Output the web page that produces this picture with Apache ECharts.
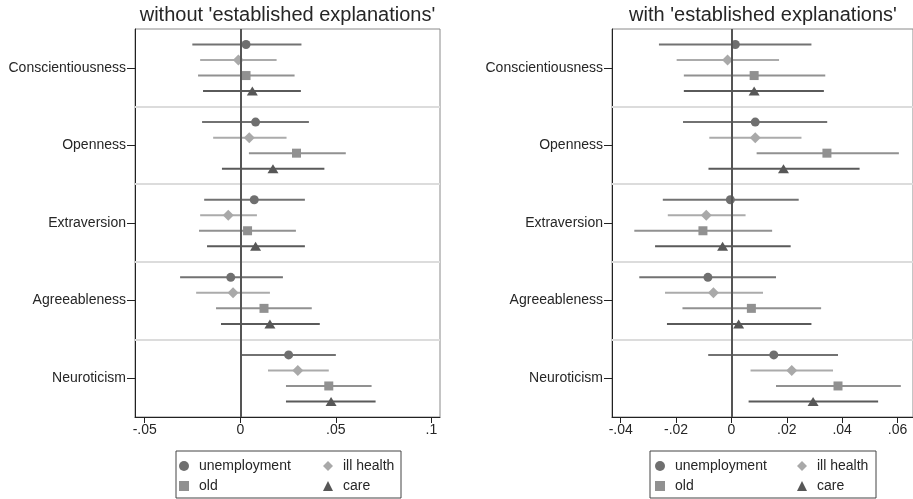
<!DOCTYPE html>
<html><head><meta charset="utf-8">
<script src="https://cdn.jsdelivr.net/npm/echarts@6/dist/echarts.min.js"></script>
<style>html,body{margin:0;padding:0;background:#fff}#c{width:913px;height:499px}</style>
</head><body><div id="c"></div>
<script>
// ---------------- data ----------------
const categories = ['Conscientiousness', 'Openness', 'Extraversion', 'Agreeableness', 'Neuroticism'];
const seriesNames = ['unemployment', 'ill health', 'old', 'care'];
const panelTitles = ["without 'established explanations'", "with 'established explanations'"];
const leftTicks = [-0.05, 0, 0.05, 0.1];
const rightTicks = [-0.04, -0.02, 0, 0.02, 0.04, 0.06];

// Left panel (without established explanations): estimate, lower CI, upper CI per category
const L_unemp_est = [0.0030, 0.0080, 0.0073, -0.0050, 0.0253];
const L_unemp_lo  = [-0.0251, -0.0200, -0.0189, -0.0315, 0.0004];
const L_unemp_hi  = [0.0320, 0.0359, 0.0338, 0.0223, 0.0500];
const L_ill_est   = [-0.0010, 0.0047, -0.0063, -0.0038, 0.0301];
const L_ill_lo    = [-0.0210, -0.0142, -0.0210, -0.0231, 0.0145];
const L_ill_hi    = [0.0190, 0.0242, 0.0087, 0.0155, 0.0463];
const L_old_est   = [0.0030, 0.0294, 0.0038, 0.0124, 0.0463];
const L_old_lo    = [-0.0221, 0.0045, -0.0216, -0.0127, 0.0239];
const L_old_hi    = [0.0284, 0.0552, 0.0291, 0.0374, 0.0687];
const L_care_est  = [0.0063, 0.0171, 0.0080, 0.0155, 0.0475];
const L_care_lo   = [-0.0195, -0.0096, -0.0174, -0.0101, 0.0239];
const L_care_hi   = [0.0317, 0.0440, 0.0338, 0.0416, 0.0708];

// Right panel (with established explanations)
const R_unemp_est = [0.0014, 0.0086, -0.0004, -0.0085, 0.0153];
const R_unemp_lo  = [-0.0262, -0.0175, -0.0248, -0.0333, -0.0084];
const R_unemp_hi  = [0.0289, 0.0346, 0.0243, 0.0161, 0.0385];
const R_ill_est   = [-0.0014, 0.0086, -0.0091, -0.0065, 0.0218];
const R_ill_lo    = [-0.0198, -0.0080, -0.0230, -0.0240, 0.0069];
const R_ill_hi    = [0.0172, 0.0253, 0.0051, 0.0114, 0.0367];
const R_old_est   = [0.0082, 0.0345, -0.0103, 0.0072, 0.0385];
const R_old_lo    = [-0.0172, 0.0091, -0.0351, -0.0177, 0.0161];
const R_old_hi    = [0.0339, 0.0605, 0.0147, 0.0324, 0.0612];
const R_care_est  = [0.0082, 0.0188, -0.0032, 0.0026, 0.0295];
const R_care_lo   = [-0.0172, -0.0083, -0.0276, -0.0233, 0.0062];
const R_care_hi   = [0.0334, 0.0463, 0.0214, 0.0289, 0.0530];

// ---------------- build ----------------
const FONT = '"Liberation Sans", Arial, sans-serif';
const TXT = '#262626';
const styles = [
  {symbol: 'circle',   size: 9,       marker: '#6f6f6f', line: '#727272'},
  {symbol: 'diamond',  size: 11,      marker: '#a9a9a9', line: '#ababab'},
  {symbol: 'rect',     size: 9,       marker: '#919191', line: '#919191'},
  {symbol: 'triangle', size: [11, 9], marker: '#575757', line: '#5a5a5a'}
];
const panels = [
  {est: [L_unemp_est, L_ill_est, L_old_est, L_care_est],
   lo:  [L_unemp_lo, L_ill_lo, L_old_lo, L_care_lo],
   hi:  [L_unemp_hi, L_ill_hi, L_old_hi, L_care_hi],
   ticks: leftTicks, min: -0.0551, max: 0.1045},
  {est: [R_unemp_est, R_ill_est, R_old_est, R_care_est],
   lo:  [R_unemp_lo, R_ill_lo, R_old_lo, R_care_lo],
   hi:  [R_unemp_hi, R_ill_hi, R_old_hi, R_care_hi],
   ticks: rightTicks, min: -0.04316, max: 0.0656}
];
const rowPos = (g, k) => g * 5 + k + 1;       // position on the y value axis
const catPos = categories.map((c, g) => g * 5 + 2.5);
const sepPos = [5, 10, 15, 20];

function fmtTick(v) {
  if (Math.abs(v) < 1e-12) return '0';
  const s = String(+Math.abs(v).toFixed(4)).replace(/^0/, '');
  return (v < 0 ? '-' : '') + s;
}
function fmtCat(v) {
  const i = Math.round((v - 2.5) / 5);
  return categories[i] || '';
}
function ciRender(params, api) {
  const y = api.value(2);
  const a = api.coord([api.value(0), y]);
  const b = api.coord([api.value(1), y]);
  return {type: 'line', shape: {x1: a[0], y1: a[1], x2: b[0], y2: b[1]},
          style: {stroke: api.visual('color'), lineWidth: 2}};
}

const grids = [
  {left: 135, top: 29, width: 305, height: 388},
  {left: 612, top: 29, width: 306, height: 388}
].map(g => Object.assign(g, {show: true, borderColor: '#8a8a8a', borderWidth: 1, containLabel: false}));

const xAxes = panels.map((p, i) => ({
  type: 'value', gridIndex: i, min: p.min, max: p.max,
  axisLine: {show: true, onZero: false, lineStyle: {color: '#222', width: 1}},
  axisTick: {show: true, customValues: p.ticks, length: 6, lineStyle: {color: '#222'}},
  axisLabel: {customValues: p.ticks, formatter: fmtTick, fontSize: 14, color: TXT, fontFamily: FONT, margin: 6},
  splitLine: {show: false}
}));
const yAxes = panels.map((p, i) => ({
  type: 'value', gridIndex: i, min: 0, max: 25, inverse: true,
  axisLine: {show: true, onZero: false, lineStyle: {color: '#222', width: 1}},
  axisTick: {show: true, customValues: catPos, length: 8, lineStyle: {color: '#222'}},
  axisLabel: {customValues: catPos, formatter: fmtCat, fontSize: 14, color: TXT, fontFamily: FONT, margin: 9},
  splitLine: {show: false}
}));

const series = [];
panels.forEach((p, pi) => {
  // background reference lines: group separators and zero line
  series.push({
    type: 'custom', name: 'ref' + pi, xAxisIndex: pi, yAxisIndex: pi, z: 1,
    data: [], renderItem: () => null, silent: true,
    markLine: {
      silent: true, symbol: 'none', label: {show: false}, animation: false,
      data: sepPos.map(v => ({yAxis: v, lineStyle: {color: '#dcdcdc', width: 2, type: 'solid'}}))
        .concat([{xAxis: 0, lineStyle: {color: '#555', width: 2, type: 'solid'}}])
    }
  });
  seriesNames.forEach((name, k) => {
    const st = styles[k];
    series.push({
      type: 'custom', name: name + ' CI ' + pi, xAxisIndex: pi, yAxisIndex: pi, z: 2,
      itemStyle: {color: st.line}, silent: true,
      encode: {x: [0, 1], y: 2},
      data: categories.map((c, g) => [p.lo[k][g], p.hi[k][g], rowPos(g, k)]),
      renderItem: ciRender
    });
  });
  seriesNames.forEach((name, k) => {
    const st = styles[k];
    series.push({
      type: 'scatter', name: name, xAxisIndex: pi, yAxisIndex: pi, z: 3,
      symbol: st.symbol, symbolSize: st.size, symbolKeepAspect: true,
      itemStyle: {color: st.marker, opacity: 1},
      data: categories.map((c, g) => [p.est[k][g], rowPos(g, k)])
    });
  });
});

const legendBase = {
  orient: 'vertical', top: 459, itemWidth: 10, itemHeight: 10, itemGap: 6, padding: 0,
  selectedMode: false, symbolKeepAspect: true,
  textStyle: {fontSize: 14, color: TXT, fontFamily: FONT, padding: [0, 0, 0, 5]}
};
const legends = [
  Object.assign({}, legendBase, {left: 179, data: [seriesNames[0], seriesNames[2]]}),
  Object.assign({}, legendBase, {left: 323, data: [seriesNames[1], seriesNames[3]]}),
  Object.assign({}, legendBase, {left: 655, data: [seriesNames[0], seriesNames[2]]}),
  Object.assign({}, legendBase, {left: 797, data: [seriesNames[1], seriesNames[3]]})
];

const option = {
  animation: false,
  backgroundColor: '#fff',
  textStyle: {fontFamily: FONT},
  title: [
    {text: panelTitles[0], left: 287.5, top: 5, textAlign: 'center', padding: 0,
     textStyle: {fontSize: 20, fontWeight: 'normal', color: TXT, fontFamily: FONT}},
    {text: panelTitles[1], left: 763, top: 5, textAlign: 'center', padding: 0,
     textStyle: {fontSize: 20, fontWeight: 'normal', color: TXT, fontFamily: FONT}}
  ],
  grid: grids, xAxis: xAxes, yAxis: yAxes, series: series, legend: legends,
  graphic: [
    {type: 'rect', shape: {x: 176, y: 451, width: 225, height: 47}, style: {fill: 'none', stroke: '#444', lineWidth: 1}, silent: true, z: 0},
    {type: 'rect', shape: {x: 650, y: 451, width: 226, height: 47}, style: {fill: 'none', stroke: '#444', lineWidth: 1}, silent: true, z: 0}
  ]
};
const chart = echarts.init(document.getElementById('c'), null, {renderer: 'canvas'});
chart.setOption(option);
</script></body></html>
